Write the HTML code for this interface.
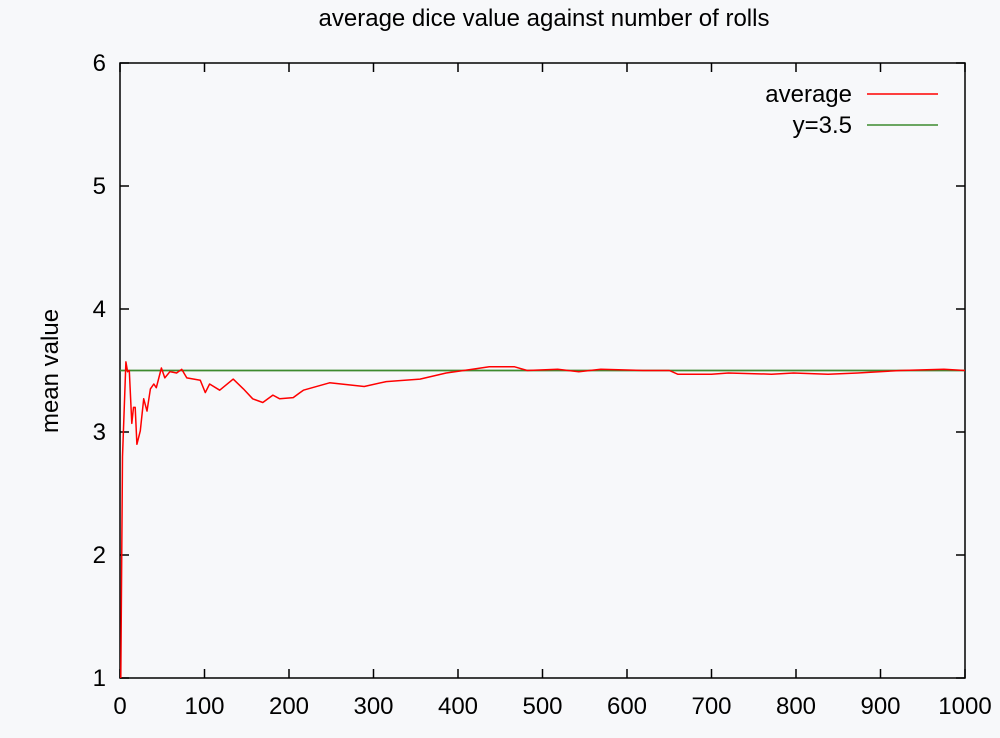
<!DOCTYPE html>
<html><head><meta charset="utf-8"><style>
body{margin:0;background:#f7f8fa;}
svg{display:block;font-family:"Liberation Sans",sans-serif;}
</style></head><body>
<svg id="chart" width="1000" height="738">
<rect width="1000" height="738" fill="#f7f8fa"/>
<text x="544" y="26" font-size="24" text-anchor="middle">average dice value against number of rolls</text>
<text transform="translate(58,371) rotate(-90)" font-size="24" text-anchor="middle">mean value</text>
<g id="axes"></g>
<g id="series"></g>
<g>
<text x="852" y="102" font-size="24" text-anchor="end">average</text>
<line x1="867" y1="94" x2="938" y2="94" stroke="#ff0000" stroke-width="1.5"/>
<text x="852" y="133" font-size="24" text-anchor="end">y=3.5</text>
<line x1="867" y1="125" x2="938" y2="125" stroke="#3d8a2e" stroke-width="1.5"/>
</g>
</svg>
<script>
const rolls = [1,3,7,9,11,12,14,16,18,20,24,28,32,36,40,43,49,53,59,67,73,79,95,101,106,118,134,146,157,169,181,189,205,213,217,248,289,315,355,386,417,437,467,482,518,543,569,619,650,660,700,720,771,797,838,873,924,975,1000];
const means = [1,2.8,3.57,3.49,3.5,3.36,3.07,3.2,3.2,2.9,3.01,3.27,3.17,3.35,3.39,3.36,3.52,3.44,3.49,3.48,3.51,3.44,3.42,3.32,3.39,3.34,3.43,3.35,3.27,3.24,3.3,3.27,3.28,3.32,3.34,3.4,3.37,3.41,3.43,3.48,3.51,3.53,3.53,3.5,3.51,3.49,3.51,3.5,3.5,3.47,3.47,3.48,3.47,3.48,3.47,3.48,3.5,3.51,3.5];
const refValue = 3.5;
const xTicks = [0,100,200,300,400,500,600,700,800,900,1000];
const yTicks = [1,2,3,4,5,6];
const X0=120,X1=965,Y0=678,Y1=63;
const sx=v=>X0+(v/1000)*(X1-X0);
const sy=v=>Y0-(v-1)/5*(Y0-Y1);
const NS="http://www.w3.org/2000/svg";
const axes=document.getElementById('axes'), series=document.getElementById('series');
function mk(tag,attrs,parent){const e=document.createElementNS(NS,tag);for(const k in attrs)e.setAttribute(k,attrs[k]);parent.appendChild(e);return e;}
const frame=mk('rect',{x:X0,y:Y1,width:X1-X0,height:Y0-Y1,fill:'none',stroke:'#000','stroke-width':1.5},axes);


xTicks.forEach(t=>{
  const x=sx(t);
  const l1=mk('line',{x1:x,y1:Y0,x2:x,y2:Y0-9,stroke:'#000','stroke-width':1.5},axes);
  
  
  const l2=mk('line',{x1:x,y1:Y1,x2:x,y2:Y1+9,stroke:'#000','stroke-width':1.5},axes);
  
  
  const tx=mk('text',{x:x,y:714,'font-size':24,'text-anchor':'middle'},axes);tx.textContent=t;
  
  
});
yTicks.forEach(t=>{
  const y=sy(t);
  const l1=mk('line',{x1:X0,y1:y,x2:X0+9,y2:y,stroke:'#000','stroke-width':1.5},axes);
  
  
  const l2=mk('line',{x1:X1,y1:y,x2:X1-9,y2:y,stroke:'#000','stroke-width':1.5},axes);
  
  
  const tx=mk('text',{x:106,y:y+8,'font-size':24,'text-anchor':'end'},axes);tx.textContent=t;
  
  
});
const ref=mk('line',{x1:X0,y1:sy(refValue),x2:X1,y2:sy(refValue),stroke:'#3d8a2e','stroke-width':1.8},series);


const d=rolls.map((r,i)=>(i?'L':'M')+sx(r).toFixed(1)+','+sy(means[i]).toFixed(1)).join(' ');
const p=mk('path',{d:d,fill:'none',stroke:'#ff0000','stroke-width':1.5,'stroke-linejoin':'round'},series);


</script>
</body></html>
